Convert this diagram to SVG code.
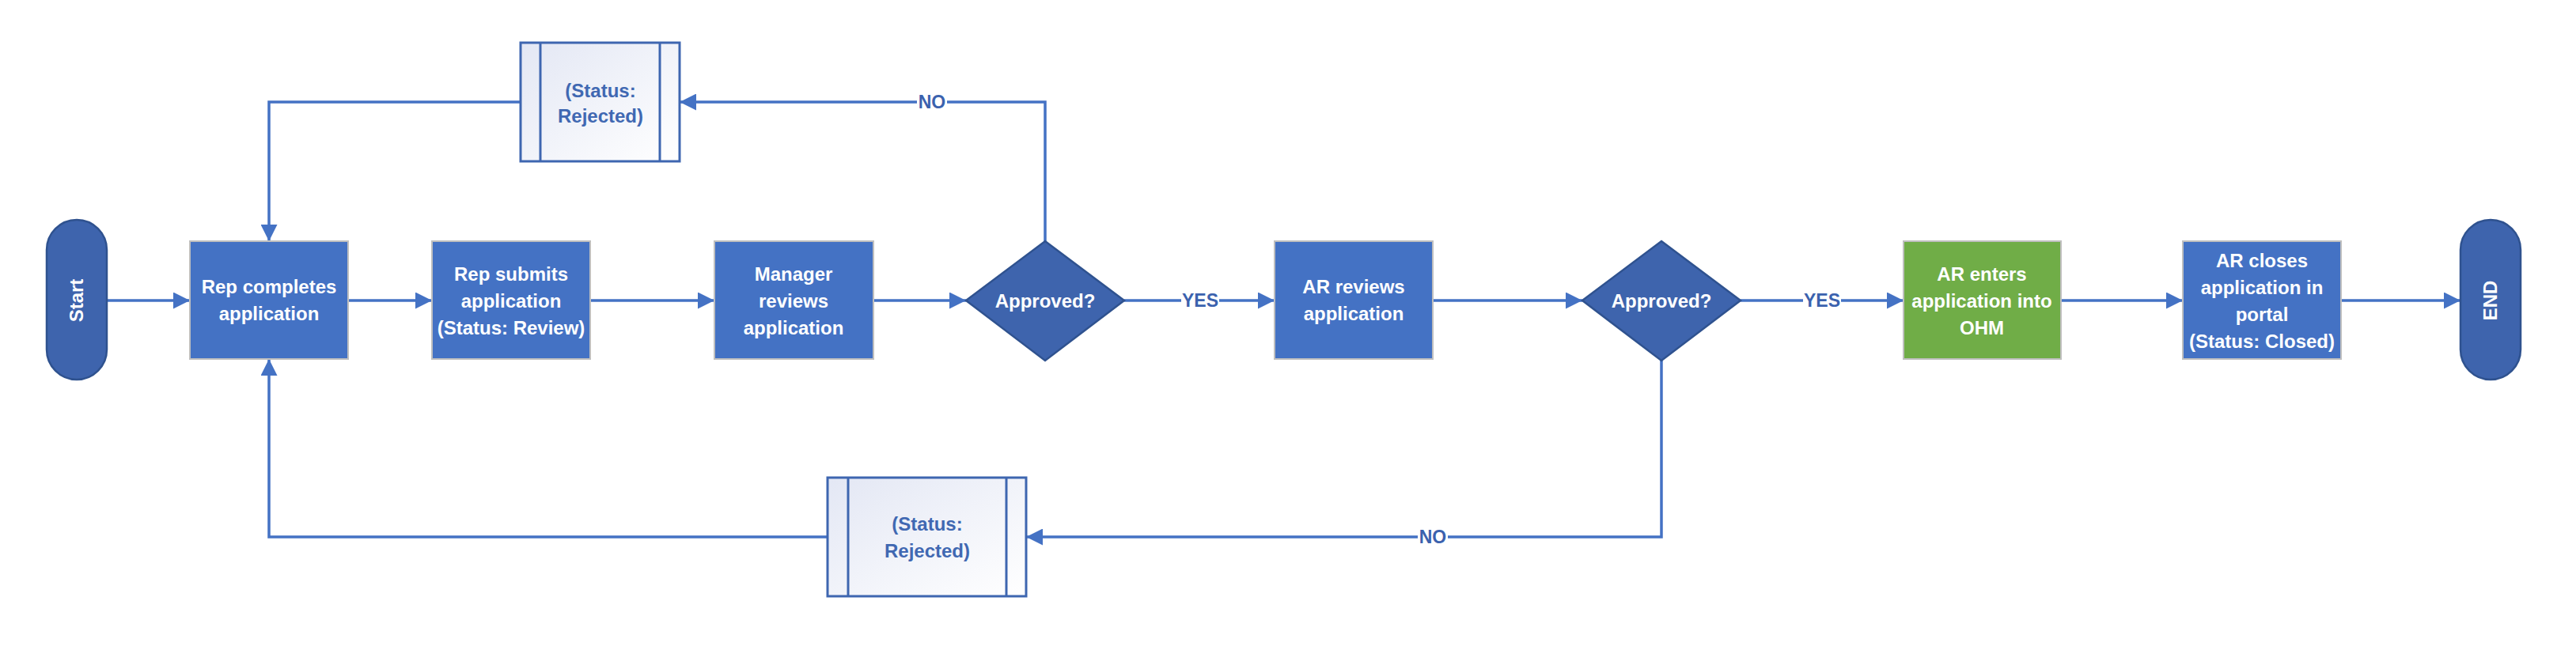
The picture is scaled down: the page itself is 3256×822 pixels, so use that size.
<svg xmlns="http://www.w3.org/2000/svg" width="3256" height="822" viewBox="0 0 3256 822">
<defs>
<linearGradient id="rej" x1="0" y1="0" x2="1" y2="1">
<stop offset="0" stop-color="#E3E7F4"/>
<stop offset="1" stop-color="#FFFFFF"/>
</linearGradient>
<marker id="arr" viewBox="0 0 20 20" refX="20" refY="10" markerWidth="21" markerHeight="21" markerUnits="userSpaceOnUse" orient="auto">
<path d="M0,0 L20,10 L0,20 Z" fill="#4472C4"/>
</marker>
<style>
.box{fill:#4472C4;stroke:#BFBFBF;stroke-width:2}
.green{fill:#70AD47;stroke:#BFBFBF;stroke-width:2}
.dec{fill:#3E64AD;stroke:#2F528F;stroke-width:2.5}
.term{fill:#3E64AD;stroke:#2F528F;stroke-width:2.5}
.rej{fill:url(#rej);stroke:#3E66B0;stroke-width:3}
.rejline{stroke:#3E66B0;stroke-width:3}
.t{font-family:"Liberation Sans",Arial,sans-serif;font-weight:bold;font-size:24px;fill:#FFFFFF;text-anchor:middle}
.rt{font-family:"Liberation Sans",Arial,sans-serif;font-weight:bold;font-size:24px;fill:#4068B2;text-anchor:middle}
.lbl{font-family:"Liberation Sans",Arial,sans-serif;font-weight:bold;font-size:23px;fill:#3B62AE;text-anchor:middle}
.c{fill:none;stroke:#4472C4;stroke-width:3.5}
.lb{fill:#FFFFFF}
</style>
</defs>
<g id="connectors">
<path class="c" d="M135,380 H240" marker-end="url(#arr)"/>
<path class="c" d="M440,380 H546" marker-end="url(#arr)"/>
<path class="c" d="M746,380 H903" marker-end="url(#arr)"/>
<path class="c" d="M1104,380 H1221" marker-end="url(#arr)"/>
<path class="c" d="M1421,380 H1611" marker-end="url(#arr)"/>
<path class="c" d="M1811,380 H2000" marker-end="url(#arr)"/>
<path class="c" d="M2200,380 H2406" marker-end="url(#arr)"/>
<path class="c" d="M2605,380 H2759" marker-end="url(#arr)"/>
<path class="c" d="M2959,380 H3110" marker-end="url(#arr)"/>
<path class="c" d="M1321,305 V129 H859" marker-end="url(#arr)"/>
<path class="c" d="M658,129 H340 V305" marker-end="url(#arr)"/>
<path class="c" d="M2100,456 V679 H1297" marker-end="url(#arr)"/>
<path class="c" d="M1046,679 H340 V454" marker-end="url(#arr)"/>
<rect class="lb" x="1493" y="366" width="48" height="28"/>
<text class="lbl" x="1517" y="388">YES</text>
<rect class="lb" x="2279" y="366" width="48" height="28"/>
<text class="lbl" x="2303" y="388">YES</text>
<rect class="lb" x="1159" y="115" width="38" height="28"/>
<text class="lbl" x="1178" y="137">NO</text>
<rect class="lb" x="1792" y="665" width="38" height="28"/>
<text class="lbl" x="1811" y="687">NO</text>
</g>
<g id="start">
<rect class="term" x="59" y="278" width="76" height="202" rx="38" ry="38"/>
<text class="t" transform="translate(105,380) rotate(-90)" x="0" y="0">Start</text>
</g>
<g id="rep-completes">
<rect class="box" x="240" y="305" width="200" height="149"/>
<text class="t" x="340" y="371">Rep completes</text>
<text class="t" x="340" y="405">application</text>
</g>
<g id="rep-submits">
<rect class="box" x="546" y="305" width="200" height="149"/>
<text class="t" x="646" y="355">Rep submits</text>
<text class="t" x="646" y="389">application</text>
<text class="t" x="646" y="423">(Status: Review)</text>
</g>
<g id="manager-reviews">
<rect class="box" x="903" y="305" width="201" height="149"/>
<text class="t" x="1003" y="355">Manager</text>
<text class="t" x="1003" y="389">reviews</text>
<text class="t" x="1003" y="423">application</text>
</g>
<g id="approved-1">
<polygon class="dec" points="1321,305 1421,380 1321,456 1221,380"/>
<text class="t" x="1321" y="389">Approved?</text>
</g>
<g id="ar-reviews">
<rect class="box" x="1611" y="305" width="200" height="149"/>
<text class="t" x="1711" y="371">AR reviews</text>
<text class="t" x="1711" y="405">application</text>
</g>
<g id="approved-2">
<polygon class="dec" points="2100,305 2200,380 2100,456 2000,380"/>
<text class="t" x="2100" y="389">Approved?</text>
</g>
<g id="ar-enters">
<rect class="green" x="2406" y="305" width="199" height="149"/>
<text class="t" x="2505" y="355">AR enters</text>
<text class="t" x="2505" y="389">application into</text>
<text class="t" x="2505" y="423">OHM</text>
</g>
<g id="ar-closes">
<rect class="box" x="2759" y="305" width="200" height="149"/>
<text class="t" x="2859" y="338">AR closes</text>
<text class="t" x="2859" y="372">application in</text>
<text class="t" x="2859" y="406">portal</text>
<text class="t" x="2859" y="440">(Status: Closed)</text>
</g>
<g id="end">
<rect class="term" x="3110" y="278" width="76" height="202" rx="38" ry="38"/>
<text class="t" transform="translate(3156,380) rotate(-90)" x="0" y="0">END</text>
</g>
<g id="rejected-top">
<rect class="rej" x="658" y="54" width="201" height="150"/>
<line class="rejline" x1="683" y1="54" x2="683" y2="204"/>
<line class="rejline" x1="834" y1="54" x2="834" y2="204"/>
<text class="rt" x="759" y="123">(Status:</text>
<text class="rt" x="759" y="155">Rejected)</text>
</g>
<g id="rejected-bottom">
<rect class="rej" x="1046" y="604" width="251" height="150"/>
<line class="rejline" x1="1072" y1="604" x2="1072" y2="754"/>
<line class="rejline" x1="1272" y1="604" x2="1272" y2="754"/>
<text class="rt" x="1172" y="671">(Status:</text>
<text class="rt" x="1172" y="705">Rejected)</text>
</g>
</svg>
